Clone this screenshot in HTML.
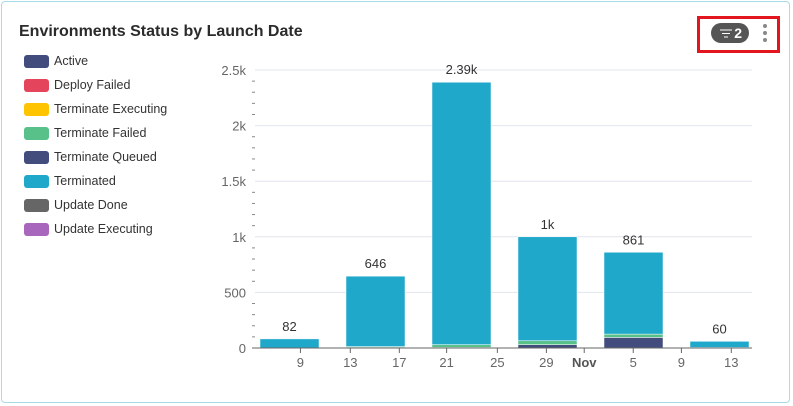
<!DOCTYPE html>
<html><head><meta charset="utf-8">
<style>
body{margin:0;width:793px;height:406px;background:#fff;font-family:"Liberation Sans",sans-serif;overflow:hidden}
.card{position:absolute;left:1px;top:1px;width:789px;height:402px;border:1px solid #a9dbe6;border-radius:4px;box-sizing:border-box}
.title{position:absolute;left:19px;top:23px;font-size:16px;font-weight:bold;color:#2b2b2b}
.leg{position:absolute;left:24px;font-size:12.5px;color:#333}
.sw{position:absolute;left:0;top:1px;width:25px;height:13px;border-radius:3px}
.leg span{position:absolute;left:30px;top:0;white-space:nowrap}
</style></head><body>
<div class="card"></div>
<div class="title">Environments Status by Launch Date</div>
<div id="legend"></div>
<div style="position:absolute;left:697px;top:16px;width:83px;height:37px;border:3px solid #e3151e;box-sizing:border-box"></div>
<div style="position:absolute;left:711px;top:23px;width:38px;height:20px;border-radius:10px;background:#555;color:#fff;font-size:14px;font-weight:bold;line-height:20px;text-align:right;padding-right:7px;box-sizing:border-box">
<svg width="12" height="9" style="position:absolute;left:9px;top:6px"><line x1="0" y1="1" x2="12" y2="1" stroke="#fff"/><line x1="2" y1="4.5" x2="10" y2="4.5" stroke="#fff"/><line x1="4" y1="8" x2="8" y2="8" stroke="#fff"/></svg>2</div>
<div style="position:absolute;left:763px;top:24px;width:6px;height:20px">
<div style="width:4px;height:4px;border-radius:2px;background:#888;margin:0 0 3px 0"></div>
<div style="width:4px;height:4px;border-radius:2px;background:#888;margin:0 0 3px 0"></div>
<div style="width:4px;height:4px;border-radius:2px;background:#888"></div></div>
<svg id="chart" width="793" height="406" style="position:absolute;left:0;top:0"></svg>
<script>
const series=["Active","Deploy Failed","Terminate Executing","Terminate Failed","Terminate Queued","Terminated","Update Done","Update Executing"];
const colors=["#434d7d","#e4455c","#ffc400","#57c189","#434d7d","#20a8cb","#666666","#a866bc"];
const totals=[82,646,2390,1000,861,60];
const totalLabels=["82","646","2.39k","1k","861","60"];
const active=[2,5,5,30,95,0];
const termFailed=[0,8,25,35,30,0];
const updateDone=[0,0,0,0,0,5];
const yTicks=[0,500,1000,1500,2000,2500];
const yTickLabels=["0","500","1k","1.5k","2k","2.5k"];
const xTickLabels=["9","13","17","21","25","29","Nov","5","9","13"];
const xTickPos=[0.47,1.05,1.62,2.17,2.76,3.33,3.77,4.34,4.9,5.48];
const NS="http://www.w3.org/2000/svg";
const svg=document.getElementById('chart');
const y0=348,ppu=278/2500,x0=255,x1=752,step=86,bw=59,bx=260;
function Y(v){return y0-v*ppu}
function X(i){return bx+i*step}
function el(t,a){const e=document.createElementNS(NS,t);for(const k in a)e.setAttribute(k,a[k]);svg.appendChild(e);return e}
const lg=document.getElementById('legend');
series.forEach((s,i)=>{const d=document.createElement('div');d.className='leg';d.style.top=(54+i*24)+'px';


d.innerHTML='<div class="sw" style="background:'+colors[i]+'"></div><span>'+s+'</span>';lg.appendChild(d)});
yTicks.forEach((v,i)=>{if(v>0){const g=el('line',{x1:x0,x2:x1,y1:Y(v),y2:Y(v),stroke:'#e1e5ee'});}
const t=el('text',{x:246,y:Y(v)+5,'text-anchor':'end','font-size':13,fill:'#666','font-family':'Liberation Sans'});t.textContent=yTickLabels[i];
});
for(let v=100;v<2500;v+=100){if(v%500)el('line',{x1:252,x2:255,y1:Y(v),y2:Y(v),stroke:'#888'})}
totals.forEach((tot,i)=>{
 const term=tot-active[i]-termFailed[i]-updateDone[i];
 const segs=[[active[i],colors[0]],[updateDone[i],colors[6]],[termFailed[i],colors[3]],[term,colors[5]]];
 let acc=0;
 segs.forEach(([v,c])=>{if(v<=0)return;const r=el('rect',{x:X(i),y:Y(acc+v),width:bw,height:v*ppu,fill:c,stroke:'#fff','stroke-width':0.5});
 acc+=v;});
 const t=el('text',{x:X(i)+bw/2,y:Y(tot)-8,'text-anchor':'middle','font-size':13,fill:'#333','font-family':'Liberation Sans'});t.textContent=totalLabels[i];
 
});
el('line',{x1:x0-3,x2:x1,y1:y0,y2:y0,stroke:'#666'});
xTickLabels.forEach((l,i)=>{const x=bx+xTickPos[i]*step;el('line',{x1:x,x2:x,y1:y0,y2:y0+5,stroke:'#666'});
 const t=el('text',{x:x,y:367,'text-anchor':'middle','font-size':13,fill:l=='Nov'?'#555':'#666','font-weight':l=='Nov'?'bold':'normal','font-family':'Liberation Sans'});t.textContent=l;
 });
</script>
</body></html>
